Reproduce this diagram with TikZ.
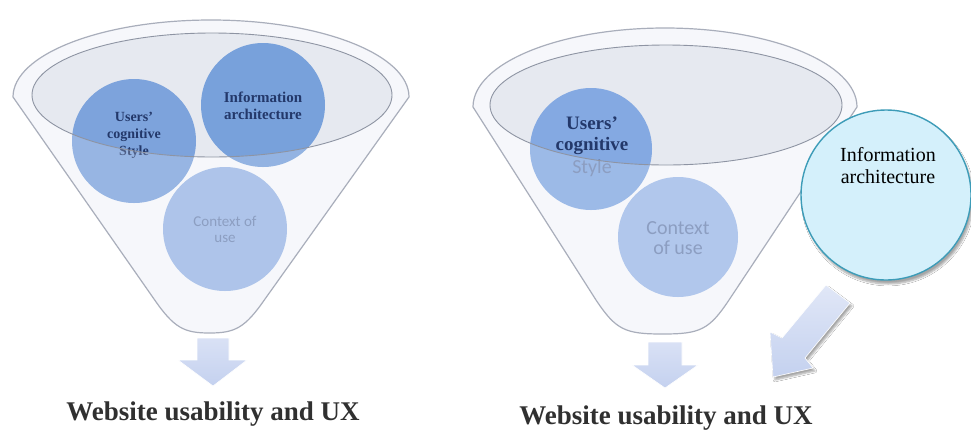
\documentclass[tikz,border=0pt]{standalone}
\usepackage{fontspec}
\setmainfont{Liberation Serif}
\newfontfamily\calib{Carlito}
\usetikzlibrary{shadows.blur}
\definecolor{funfill}{HTML}{F4F6FA}
\definecolor{funline}{HTML}{A9AEBB}
\definecolor{ellfill}{HTML}{E6E9F0}
\definecolor{ellline}{HTML}{8E94A3}
\definecolor{cA}{HTML}{7DA3DC}
\definecolor{cB}{HTML}{78A1DB}
\definecolor{cC}{HTML}{9AB6E5}
\definecolor{cD}{HTML}{84A9E2}
\definecolor{cE}{HTML}{9EB9E8}
\definecolor{txtdark}{HTML}{23386A}
\definecolor{txtpale}{HTML}{7086B2}
\definecolor{arrtop}{HTML}{D9E1F5}
\definecolor{arrbot}{HTML}{C4D1EF}
\definecolor{iafill}{HTML}{D4F0FB}
\definecolor{ialine}{HTML}{3D9CB8}
\definecolor{titlecol}{HTML}{303030}
\tikzset{
  ball/.style={circle, minimum size=124pt, inner sep=0pt, align=center},
  blockarrow/.style={top color=arrtop, bottom color=arrbot, draw=white, line width=0.6pt},
  title/.style={font=\bfseries\fontsize{27}{30}\selectfont, text=titlecol, inner sep=0pt},
}
\def\lfunnel{(13,97) arc[start angle=180,end angle=360,x radius=198,y radius=77] -- (265,299) .. controls (245,328) and (235,333) .. (209.5,333) .. controls (184,333) and (174,328) .. (154,299) -- cycle}
\def\rfunnel{(473,107) arc[start angle=180,end angle=360,x radius=192,y radius=79] -- (729,300) .. controls (709,330) and (700,334) .. (662.5,334) .. controls (625,334) and (616,330) .. (596,300) -- cycle}
\begin{document}
\begin{tikzpicture}[x=1pt,y=-1pt]
\useasboundingbox[fill=white] (0,0) rectangle (971,432);

% ================= LEFT FUNNEL =================
\fill[funfill] \lfunnel;
\fill[ellfill] (212,95) ellipse[x radius=180,y radius=62];
\node[ball, fill=cA] (lusers) at (134,141) {};
\node[ball, fill=cB] (linfo) at (263,105) {};
\node[ball, fill=cC] (lctx) at (225,229) {};
\node[align=center, text=txtdark, font=\bfseries\fontsize{14}{17}\selectfont] (lusersT) at (134,135) {Users'\\cognitive\\Style};
\node[align=center, text=txtdark, font=\bfseries\fontsize{15}{17}\selectfont] (linfoT) at (263,106) {Information\\architecture};
\node[align=center, text=txtpale, font=\calib\fontsize{15}{16}\selectfont] (lctxT) at (225,229) {Context of\\use};
\fill[white, opacity=0.2, even odd rule] \lfunnel (212,95) ellipse[x radius=180,y radius=62];
\draw[funline, line width=1.2pt] \lfunnel;
\draw[ellline, line width=0.9pt] (212,95) ellipse[x radius=180,y radius=62];
\path[blockarrow] (197,338) -- (229,338) -- (229,360) -- (247,360) -- (213,386) -- (178,360) -- (197,360) -- cycle;
\node[title] (ltitle) at (213,414) {Website usability and UX};

% ================= RIGHT FUNNEL =================
\fill[funfill] \rfunnel;
\fill[ellfill] (666,105) ellipse[x radius=176,y radius=60];
\node[ball, fill=cD, minimum size=122pt] (rusers) at (591,149) {};
\node[ball, fill=cE, minimum size=120pt] (rctx) at (678,237) {};
\node[align=center, text=txtdark, font=\bfseries\fontsize{19}{21}\selectfont] (rusersT) at (592,136) {Users'\\cognitive};
\node[text=txtpale, font=\calib\fontsize{20}{21}\selectfont] (rstyleT) at (592,168) {Style};
\node[align=center, text=txtpale, font=\calib\fontsize{20}{20}\selectfont] (rctxT) at (678,238) {Context\\of use};
\fill[white, opacity=0.2, even odd rule] \rfunnel (666,105) ellipse[x radius=176,y radius=60];
\draw[funline, line width=1.2pt] \rfunnel;
\draw[ellline, line width=0.9pt] (666,105) ellipse[x radius=176,y radius=60];
\path[blockarrow] (648,342) -- (682,342) -- (682,365) -- (698,365) -- (665,388) -- (632,365) -- (648,365) -- cycle;
\node[title] (rtitle) at (666,418) {Website usability and UX};

% Information architecture (outside)
\node[circle, minimum size=170pt, inner sep=0pt, fill=iafill, draw=ialine, line width=1.4pt,
      blur shadow={shadow xshift=2pt, shadow yshift=-4pt, shadow blur steps=6, shadow opacity=35}] (rinfo) at (886,195) {};
\node[align=center, font=\fontsize{20}{22}\selectfont] (rinfoT) at (888,166) {Information\\architecture};

% diagonal block arrow
\path[blockarrow, top color=arrtop!80!white, bottom color=arrbot,
      blur shadow={shadow xshift=2pt, shadow yshift=-3pt, shadow blur steps=5, shadow opacity=35}]
  (826,285) -- (782,338) -- (770,332) -- (773,377) -- (813,368) -- (805,358) -- (850,303) -- cycle;
\end{tikzpicture}
\end{document}
